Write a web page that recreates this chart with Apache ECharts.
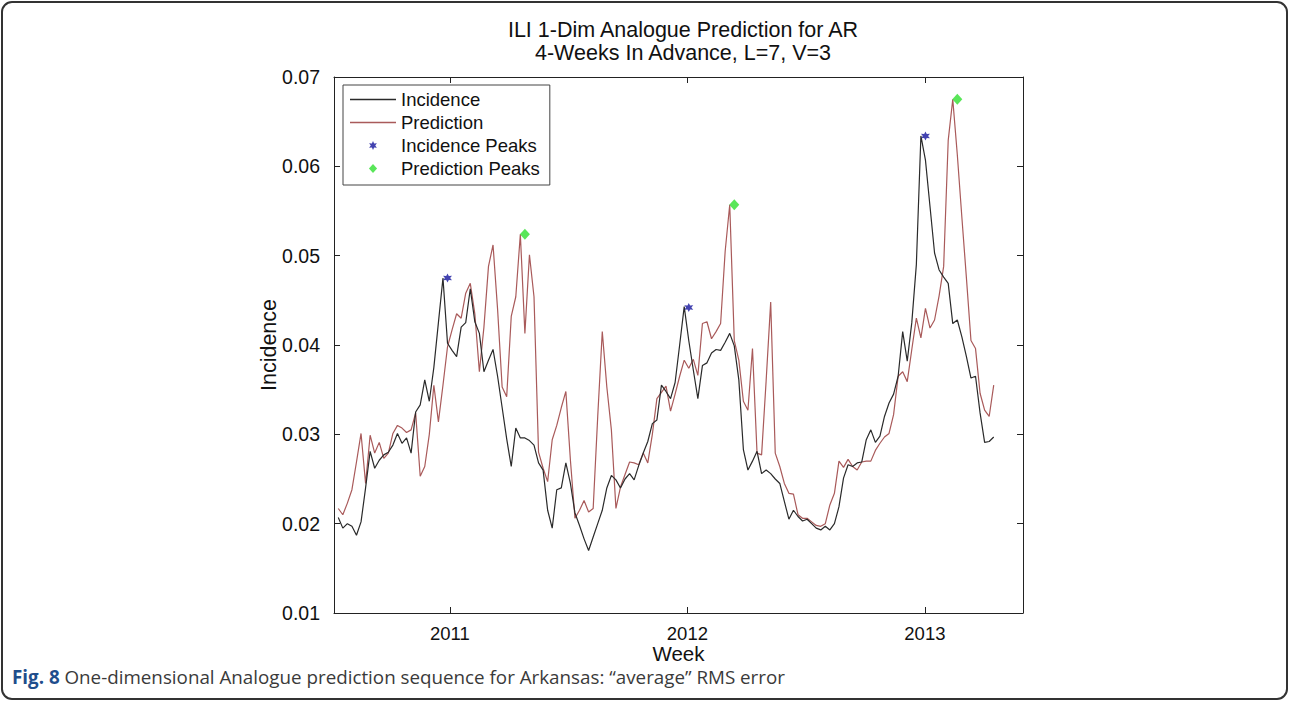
<!DOCTYPE html>
<html>
<head>
<meta charset="utf-8">
<script src="https://cdn.jsdelivr.net/npm/echarts@6/dist/echarts.min.js"></script>
<style>
  html, body { margin: 0; padding: 0; background: #fff; }
  #chart { width: 1290px; height: 703px; }
</style>
</head>
<body>
<div id="chart"></div>
<script>
// Weekly ILI incidence for Arkansas and the 4-week-ahead analogue prediction.
// Week positions are in decimal years, starting mid-July 2010.
const weekStart = 2010.530;
const weekStep = 7 / 365.25;

const incidence = [
  0.0207, 0.0195, 0.0200, 0.0197, 0.0187, 0.0202, 0.0240, 0.0281, 0.0262, 0.0271,
  0.0277, 0.0280, 0.0288, 0.0301, 0.0290, 0.0296, 0.0279, 0.0325, 0.0333, 0.0361,
  0.0337, 0.0375, 0.0425, 0.0475, 0.0402, 0.0394, 0.0387, 0.0420, 0.0425, 0.0463,
  0.0426, 0.0413, 0.0370, 0.0383, 0.0395, 0.0365, 0.0330, 0.0295, 0.0264, 0.0307,
  0.0296, 0.0296, 0.0293, 0.0288, 0.0268, 0.0260, 0.0215, 0.0195, 0.0238, 0.0240,
  0.0268, 0.0245, 0.0212, 0.0198, 0.0183, 0.0170, 0.0185, 0.0200, 0.0215, 0.0240,
  0.0254, 0.0249, 0.0240, 0.0250, 0.0256, 0.0249, 0.0265, 0.0279, 0.0292, 0.0312,
  0.0316, 0.0355, 0.0348, 0.0340, 0.0358, 0.0400, 0.0443, 0.0405, 0.0372, 0.0340,
  0.0377, 0.0380, 0.0391, 0.0395, 0.0394, 0.0403, 0.0413, 0.0399, 0.0361, 0.0283,
  0.0260, 0.0270, 0.0281, 0.0256, 0.0260, 0.0256, 0.0250, 0.0245, 0.0225, 0.0205,
  0.0215, 0.0208, 0.0203, 0.0205, 0.0200, 0.0195, 0.0193, 0.0197, 0.0193, 0.0200,
  0.0219, 0.0251, 0.0266, 0.0264, 0.0268, 0.0269, 0.0294, 0.0305, 0.0291, 0.0298,
  0.0320, 0.0335, 0.0345, 0.0365, 0.0415, 0.0382, 0.0425, 0.0490, 0.0634, 0.0607,
  0.0555, 0.0503, 0.0484, 0.0476, 0.0469, 0.0424, 0.0428, 0.0409, 0.0387, 0.0363,
  0.0365, 0.0324, 0.0291, 0.0292, 0.0297
];

const prediction = [
  0.0217, 0.0210, 0.0223, 0.0238, 0.0269, 0.0301, 0.0245, 0.0299, 0.0279, 0.0291,
  0.0273, 0.0279, 0.0301, 0.0310, 0.0307, 0.0302, 0.0305, 0.0324, 0.0253, 0.0264,
  0.0300, 0.0355, 0.0314, 0.0355, 0.0398, 0.0417, 0.0435, 0.0430, 0.0458, 0.0469,
  0.0435, 0.0370, 0.0420, 0.0488, 0.0512, 0.0440, 0.0353, 0.0342, 0.0432, 0.0454,
  0.0524, 0.0413, 0.0501, 0.0454, 0.0280, 0.0262, 0.0247, 0.0294, 0.0310, 0.0330,
  0.0348, 0.0271, 0.0206, 0.0215, 0.0226, 0.0213, 0.0217, 0.0320, 0.0415, 0.0353,
  0.0305, 0.0217, 0.0241, 0.0255, 0.0269, 0.0268, 0.0266, 0.0279, 0.0268, 0.0300,
  0.0340, 0.0347, 0.0354, 0.0326, 0.0345, 0.0365, 0.0383, 0.0374, 0.0384, 0.0366,
  0.0424, 0.0426, 0.0407, 0.0415, 0.0424, 0.0505, 0.0557, 0.0405, 0.0383, 0.0337,
  0.0327, 0.0396, 0.0279, 0.0277, 0.0360, 0.0448, 0.0279, 0.0264, 0.0245, 0.0234,
  0.0233, 0.0210, 0.0206, 0.0206, 0.0202, 0.0198, 0.0197, 0.0200, 0.0221, 0.0234,
  0.0270, 0.0263, 0.0272, 0.0264, 0.0260, 0.0269, 0.0270, 0.0270, 0.0282, 0.0290,
  0.0297, 0.0301, 0.0322, 0.0365, 0.0370, 0.0359, 0.0395, 0.0430, 0.0408, 0.0441,
  0.0419, 0.0428, 0.0455, 0.0488, 0.0629, 0.0675, 0.0613, 0.0543, 0.0475, 0.0405,
  0.0396, 0.0346, 0.0327, 0.0320, 0.0355
];

// Seasonal peaks (week index into the series above, and value)
const incidencePeakWeeks = [24, 77, 129];
const incidencePeakValues = [0.0475, 0.0442, 0.0634];
const predictionPeakWeeks = [41, 87, 136];
const predictionPeakValues = [0.0524, 0.0557, 0.0675];

const yearTicks = [2011, 2012, 2013];
const xMin = 2010.512, xMax = 2013.413;
const yMin = 0.01, yMax = 0.07, yStep = 0.01;

const weekX = i => weekStart + i * weekStep;
const toPoints = arr => arr.map((v, i) => [weekX(i), v]);
const toPeakPoints = (weeks, vals) => weeks.map((w, k) => [weekX(w), vals[k]]);

const FONT = 'Liberation Sans, Arial, sans-serif';
const AXIS_COLOR = '#222';
const INC_COLOR = '#2a2a2a';
const PRED_COLOR = '#a95a5a';
const starPath = 'path://M0,-10L2.5,-4.33L8.66,-5L5,0L8.66,5L2.5,4.33L0,10L-2.5,4.33L-8.66,5L-5,0L-8.66,-5L-2.5,-4.33Z';
const diamondPath = 'path://M0,-10L9,0L0,10L-9,0Z';
const legendLinePath = 'path://M0,0H46V1.3H0Z';

const chart = echarts.init(document.getElementById('chart'), null, { renderer: 'svg' });

const baseX = {
  type: 'value', min: xMin, max: xMax,
  axisLine: { show: true, onZero: false, lineStyle: { color: AXIS_COLOR, width: 1 } },
  axisTick: { show: true, inside: true, length: 6, customValues: yearTicks, lineStyle: { color: AXIS_COLOR } },
  splitLine: { show: false }
};
const baseY = {
  type: 'value', min: yMin, max: yMax, interval: yStep,
  axisLine: { show: true, onZero: false, lineStyle: { color: AXIS_COLOR, width: 1 } },
  axisTick: { show: true, inside: true, length: 6, lineStyle: { color: AXIS_COLOR } },
  splitLine: { show: false }
};

chart.setOption({
  animation: false,
  backgroundColor: '#fff',
  title: {
    text: 'ILI 1-Dim Analogue Prediction for AR\n4-Weeks In Advance, L=7, V=3',
    left: 678, top: 13, textAlign: 'center',
    textStyle: { fontFamily: FONT, fontSize: 21.5, fontWeight: 'normal', color: '#111', lineHeight: 23 }
  },
  grid: { left: 334, right: 267, top: 77, bottom: 90, containLabel: false },
  legend: {
    orient: 'vertical', left: 343, top: 85,
    itemWidth: 46, itemHeight: 9, itemGap: 4,
    padding: [5, 10, 7, 7],
    borderColor: '#444', borderWidth: 1, backgroundColor: '#fff',
    textStyle: { fontFamily: FONT, fontSize: 18.5, color: '#111', lineHeight: 18 },
    data: [
      { name: 'Incidence', icon: legendLinePath },
      { name: 'Prediction', icon: legendLinePath },
      { name: 'Incidence Peaks' },
      { name: 'Prediction Peaks' }
    ]
  },
  xAxis: [
    Object.assign({}, baseX, {
      position: 'bottom',
      name: 'Week', nameLocation: 'middle', nameGap: 33, nameMoveOverlap: false,
      nameTextStyle: { fontFamily: FONT, fontSize: 20.5, color: '#111', lineHeight: 15 },
      axisLabel: { show: true, customValues: yearTicks, margin: 13, formatter: v => String(Math.round(v)),
                   fontFamily: FONT, fontSize: 18.5, color: '#111', lineHeight: 14 }
    }),
    Object.assign({}, baseX, { position: 'top', axisLabel: { show: false } })
  ],
  yAxis: [
    Object.assign({}, baseY, {
      position: 'left',
      name: 'Incidence', nameLocation: 'middle', nameGap: 54, nameMoveOverlap: false,
      nameTextStyle: { fontFamily: FONT, fontSize: 21.5, color: '#111' },
      axisLabel: { show: true, margin: 14, formatter: v => v.toFixed(2),
                   fontFamily: FONT, fontSize: 19.5, color: '#111' }
    }),
    Object.assign({}, baseY, { position: 'right', axisLabel: { show: false } })
  ],
  series: [
    {
      name: 'Incidence', type: 'line', xAxisIndex: 0, yAxisIndex: 0,
      data: toPoints(incidence), symbol: 'none', showSymbol: false,
      lineStyle: { color: INC_COLOR, width: 1.2 }, itemStyle: { color: INC_COLOR }, z: 3
    },
    {
      name: 'Prediction', type: 'line', xAxisIndex: 0, yAxisIndex: 0,
      data: toPoints(prediction), symbol: 'none', showSymbol: false,
      lineStyle: { color: PRED_COLOR, width: 1.2 }, itemStyle: { color: PRED_COLOR }, z: 2
    },
    {
      name: 'Incidence Peaks', type: 'scatter', xAxisIndex: 0, yAxisIndex: 0,
      data: toPeakPoints(incidencePeakWeeks, incidencePeakValues),
      symbol: starPath, symbolSize: 9, itemStyle: { color: '#14149c' }, z: 5
    },
    {
      name: 'Prediction Peaks', type: 'scatter', xAxisIndex: 0, yAxisIndex: 0,
      data: toPeakPoints(predictionPeakWeeks, predictionPeakValues),
      symbol: diamondPath, symbolSize: [10, 11], itemStyle: { color: '#2fe02f' }, z: 5
    }
  ],
  graphic: [
    {
      type: 'rect', silent: true,
      shape: { x: 2, y: 2, width: 1285, height: 697, r: 10 },
      style: { fill: 'none', stroke: '#333', lineWidth: 2 }
    },
    {
      type: 'text', left: 12, top: 667, silent: true,
      style: {
        text: '{b|Fig. 8} One-dimensional Analogue prediction sequence for Arkansas: “average” RMS error',
        fontFamily: 'Open Sans, sans-serif', fontSize: 18.8, lineHeight: 19, fill: '#3a3a3a',
        rich: { b: { fontFamily: 'Open Sans, sans-serif', fontSize: 18.8, lineHeight: 19, fontWeight: 'bold', fill: '#1f4e8c' } }
      }
    }
  ]
});
</script>
</body>
</html>
